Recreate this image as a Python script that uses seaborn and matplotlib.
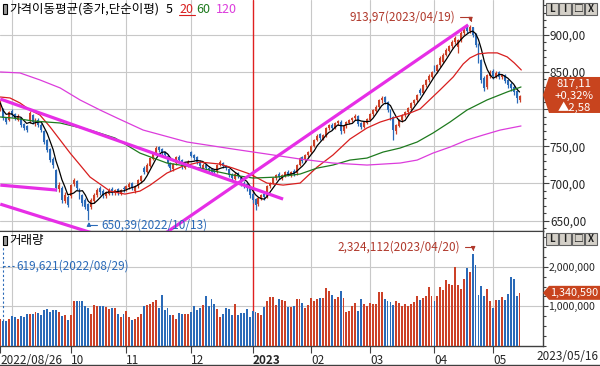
import numpy as np
import pandas as pd
import matplotlib
matplotlib.use('Agg')
import matplotlib.pyplot as plt
import seaborn as sns
from matplotlib.patches import Polygon, Rectangle
from matplotlib.lines import Line2D
from matplotlib.ticker import MultipleLocator

# --- daily candles, 2022/08/26 .. 2023/05/16 (one entry per trading day) ---
opens = [
    800, 800, 788, 786, 798, 793, 786, 788, 780, 778,
    784, 792, 780, 786, 779, 770, 758, 746, 733, 718,
    692, 694, 676, 682, 683, 699, 703, 692, 684, 678,
    672, 668, 676, 684, 694, 690, 683, 686, 693, 687,
    692, 686, 694, 692, 695, 700, 690, 696, 703, 721,
    716, 724, 733, 741, 749, 746, 742, 737, 727, 719,
    727, 736, 731, 721, 725, 742, 738, 735, 729, 721,
    725, 721, 719, 718, 716, 725, 728, 724, 719, 712,
    706, 714, 708, 701, 699, 694, 686, 679, 672, 680,
    686, 683, 696, 701, 707, 713, 708, 711, 716, 711,
    717, 714, 725, 735, 731, 738, 742, 751, 759, 766,
    760, 765, 774, 779, 775, 781, 783, 770, 777, 782,
    785, 788, 791, 781, 776, 782, 786, 793, 798, 803,
    812, 817, 810, 798, 790, 770, 778, 785, 792, 796,
    801, 808, 812, 826, 822, 832, 839, 844, 858, 852,
    860, 864, 873, 879, 885, 890, 884, 893, 902, 910,
    905, 910, 901, 887, 866, 842, 830, 845, 852, 844,
    850, 843, 846, 839, 834, 830, 824, 813,
]
highs = [
    812, 802, 790, 798, 800, 795, 793, 790, 782, 779,
    797, 794, 788, 788, 781, 772, 760, 748, 736, 719,
    702, 697, 688, 684, 699, 708, 705, 694, 686, 680,
    674, 680, 687, 694, 696, 692, 690, 694, 695, 693,
    694, 693, 696, 698, 702, 702, 698, 706, 712, 724,
    727, 736, 743, 750, 751, 748, 744, 739, 729, 728,
    737, 738, 733, 728, 731, 744, 740, 737, 731, 727,
    727, 723, 721, 720, 726, 731, 729, 725, 720, 714,
    715, 716, 709, 703, 700, 696, 688, 681, 682, 686,
    688, 698, 702, 709, 713, 715, 713, 717, 718, 717,
    719, 726, 736, 737, 740, 744, 752, 760, 766, 768,
    767, 776, 780, 781, 783, 786, 785, 779, 784, 787,
    790, 793, 792, 783, 784, 788, 795, 800, 805, 814,
    818, 818, 811, 800, 791, 780, 787, 794, 798, 803,
    810, 814, 821, 828, 834, 841, 847, 852, 859, 861,
    871, 875, 882, 887, 893, 898, 895, 905, 909, 912,
    913.97, 911, 903, 889, 868, 845, 848, 853, 854, 851,
    851, 848, 848, 841, 836, 832, 826, 819,
]
lows = [
    798, 786, 780, 784, 790, 786, 784, 776, 772, 769,
    782, 780, 778, 776, 769, 753, 742, 729, 721, 690,
    688, 674, 674, 668, 681, 697, 691, 679, 670, 665,
    650.39, 665, 674, 682, 685, 681, 680, 684, 685, 685,
    684, 684, 689, 690, 693, 691, 687, 694, 701, 713,
    714, 722, 731, 739, 742, 738, 735, 724, 717, 717,
    725, 729, 720, 719, 722, 735, 731, 726, 720, 719,
    718, 715, 712, 712, 714, 723, 721, 718, 709, 704,
    704, 707, 697, 694, 690, 681, 674, 664, 670, 678,
    678, 681, 694, 699, 705, 706, 705, 709, 710, 709,
    710, 712, 723, 727, 729, 736, 740, 749, 757, 758,
    758, 763, 772, 772, 773, 779, 766, 768, 775, 780,
    783, 786, 778, 773, 774, 780, 784, 791, 796, 801,
    809, 807, 796, 785, 758.5, 766, 776, 783, 790, 794,
    799, 806, 810, 819, 820, 830, 836, 842, 850, 849,
    857, 862, 871, 877, 883, 888, 876, 891, 900, 902,
    903, 897, 884, 862, 835, 824, 827, 842, 841, 842,
    840, 840, 835, 829, 825, 819, 808, 810,
]
closes = [
    808.4, 788.1, 782.7, 796.2, 792.2, 788.1, 790.8, 778.7, 774.6, 771.9,
    794.9, 782.7, 785.4, 778.7, 771.9, 755.8, 745.0, 731.5, 724.8, 693.8,
    697.8, 677.6, 684.3, 670.9, 697.8, 704.6, 693.8, 681.6, 673.6, 668.2,
    662.8, 677.6, 684.3, 691.1, 688.4, 684.3, 688.4, 691.1, 688.4, 691.1,
    687.0, 691.1, 692.4, 696.5, 699.2, 693.8, 696.5, 704.6, 709.9, 715.3,
    724.8, 734.2, 740.9, 747.7, 745.0, 740.9, 738.3, 727.5, 720.7, 726.1,
    735.6, 731.5, 723.4, 726.1, 728.8, 736.9, 734.2, 728.8, 723.4, 724.8,
    720.7, 718.0, 715.3, 715.3, 724.8, 728.8, 723.4, 720.7, 711.3, 707.3,
    712.7, 710.0, 700.5, 697.8, 693.8, 684.3, 677.6, 670.9, 680.3, 684.3,
    681.6, 696.5, 700.5, 707.3, 711.3, 708.6, 711.3, 715.3, 712.7, 715.3,
    712.7, 724.8, 734.2, 730.2, 738.3, 742.3, 750.4, 758.5, 763.9, 761.2,
    765.2, 774.6, 778.7, 774.6, 781.4, 784.1, 770.6, 777.4, 782.7, 785.4,
    788.1, 790.8, 780.0, 776.0, 782.7, 786.8, 793.5, 798.9, 803.0, 812.4,
    815.1, 809.7, 798.9, 788.1, 771.9, 778.7, 785.4, 792.2, 796.2, 801.6,
    808.4, 812.4, 819.1, 821.8, 832.6, 839.4, 844.8, 850.1, 852.8, 859.6,
    869.0, 873.1, 879.8, 885.2, 890.6, 896.0, 893.0, 902.7, 906.8, 905.4,
    910.8, 900.0, 886.5, 866.3, 839.4, 828.6, 846.1, 850.1, 844.8, 848.8,
    843.4, 846.1, 838.0, 832.6, 828.6, 823.2, 814.53, 817.11,
]
# volume in thousands of shares
volumes_k = [
    692, 619.621, 640, 692, 754, 737, 692, 754, 737, 807,
    807, 807, 851, 825, 781, 912, 930, 868, 912, 912,
    868, 754, 772, 650, 781, 1132, 1132, 1132, 1132, 1018,
    956, 807, 1044, 1018, 1018, 1018, 982, 930, 956, 956,
    807, 719, 807, 895, 719, 667, 692, 719, 807, 1018,
    1044, 1070, 1105, 1158, 956, 1281, 912, 956, 781, 781,
    692, 842, 807, 807, 807, 868, 1018, 912, 956, 1044,
    1263, 1000, 1193, 1070, 930, 737, 807, 956, 930, 781,
    1070, 781, 842, 825, 930, 719, 895, 868, 825, 781,
    982, 1132, 1237, 1237, 1044, 1193, 1158, 1132, 982, 982,
    1000, 1193,
    1175, 1088, 956, 1044, 1219, 1132, 1193, 1219, 1219, 1456,
    1395, 1281, 1175, 1246, 1395, 1219, 851, 895, 1000, 1088,
    895, 1175, 1070, 1000, 1088, 1070, 1070, 1351, 1351, 1175,
    1132, 1105, 1044, 1132, 1088, 1018, 1070, 1000, 1070, 1105,
    1263, 1158, 1219, 1263, 1482, 1263, 1132, 1263, 1482, 1421,
    1658, 1570, 1544, 1982, 1526, 1439, 1702, 1965, 1877, 2324.112,
    2035, 1289, 1509, 1263, 1439, 1132, 956, 1158, 1158, 1246,
    1158, 1307, 1746, 1684, 1263, 1340.59,
]

# longer moving averages, sampled off the chart (bar index, value)
ma20_x = [0, 3.3, 6.7, 10.1, 13.5, 17, 20.4, 23.8, 27.2, 30.6, 34, 37.4, 42.5, 47.6, 51.1,
          56.8, 62.3, 68.1, 74.9, 79.3, 85.1, 90.9, 96.4, 102.2, 108, 113.4, 119.2, 125,
          129.5, 133.9, 139.7, 143.1, 149.9, 154.4, 157.8, 160.1, 162.9, 166.3, 169.4,
          172.8, 175.2, 177.6]
ma20_y = [816.4, 815.1, 808.4, 798.9, 792.2, 776.0, 758.5, 740.9, 724.8, 708.6, 699.2, 689.7,
          685.7, 689.7, 697.8, 714.0, 723.4, 728.8, 726.1, 720.7, 712.7, 700.5, 697.8, 700.5,
          722.1, 738.3, 759.8, 774.7, 782.7, 788.1, 794.9, 800.3, 825.9, 843.4, 860.9, 869.0,
          874.4, 875.8, 875.8, 870.4, 862.3, 852.8]
ma60_x = [0, 4.3, 11.2, 20.4, 30.6, 39.1, 47.6, 56.8, 68.1, 79.4, 86.2, 94.3, 102.2, 108,
          113.4, 119.2, 125, 130.5, 136.3, 142.1, 147.5, 153.3, 159.1, 165.9, 172.8, 177.5]
ma60_y = [789.5, 788.1, 784.1, 781.4, 771.9, 761.2, 740.9, 727.5, 720.7, 711.3, 707.3, 708.6,
          712.7, 720.7, 724.8, 731.5, 734.2, 742.3, 747.7, 755.8, 767.9, 782.7, 798.9, 812.4,
          823.2, 829.9]
ma120_x = [0, 6.7, 13.5, 20.4, 27.2, 34, 39.8, 48.7, 63.7, 79.4, 90.9, 102.2, 113.4, 125,
           136.3, 142.1, 147.5, 153.3, 159.1, 164.6, 170.4, 177.5]
ma120_y = [850.1, 848.8, 839.4, 828.6, 812.4, 798.9, 788.1, 771.9, 755.8, 746.3, 739.6, 732.9,
           727.5, 724.8, 727.5, 731.5, 740.9, 749.0, 758.5, 765.2, 771.9, 777.4]

# hand-drawn trend lines (bar index, price)
trend_lines = {
    'up': ([55.0, 159.5], [629.6, 913.5]),
    'down': ([0, 96.4], [813.7, 679.0]),
    'flat': ([0, 19.3], [697.8, 691.1]),
    'low': ([0, 31], [672.2, 633.7]),
}

month_ticks = [0, 24, 43, 65, 86, 106, 126, 148, 168]
month_labels = ['2022/08/26', '10', '11', '12', '2023', '02', '03', '04', '05']
grid_ticks = [4, 24, 43, 65, 106, 126, 148, 168]
year_start = 86
last_date = '2023/05/16'
high_date = '2023/04/19'
low_date = '2022/10/13'
vmax_date = '2023/04/20'
vmin_date = '2022/08/29'
change_pct = '+0,32%'
change_abs = '▲2,58'

price_ticks = [650, 700, 750, 800, 850, 900]
vol_ticks = [1000000, 2000000]

RED = '#cc4128'
BLUE = '#2a6ab8'
DRED = '#b0392c'
MA20_C = '#d81e1e'
MA60_C = '#1e7a1e'
MA120_C = '#dc3cdc'
TREND_C = '#e62ee6'
GRID_C = '#c8c8c8'
AXIS_C = '#404040'
YEAR_C = '#e02020'
BOX_C = '#c8441e'

sns.set_style('white')
plt.rcParams['font.family'] = ['Noto Sans CJK KR', 'DejaVu Sans']

df = pd.DataFrame({'open': opens, 'high': highs, 'low': lows, 'close': closes,
                   'volume': np.array(volumes_k) * 1000})
df['idx'] = np.arange(len(df))
df['up'] = df['close'] >= df['open']
df['ma5'] = df['close'].rolling(5, min_periods=1).mean()

W, H = 600, 366
fig = plt.figure(figsize=(W / 100, H / 100), dpi=100)


def fx(px):
    return px / W


def fy(py):
    return 1 - py / H


ax = fig.add_axes([0, fy(231), fx(543), 231 / H])
axv = fig.add_axes([0, fy(346), fx(543), 115 / H])

# --- candles ---
colors = np.where(df['up'], RED, BLUE)
ax.vlines(df['idx'], df['low'], df['high'], colors=colors, lw=0.9, zorder=3)
body_lo = df[['open', 'close']].min(axis=1)
body_h = (df['close'] - df['open']).abs().clip(lower=0.9)
ax.bar(df['idx'], body_h, bottom=body_lo, width=0.65, color=colors, lw=0, zorder=3)

# --- moving averages ---
sns.lineplot(x=df['idx'], y=df['ma5'], ax=ax, color='black', lw=0.9, zorder=4)
sns.lineplot(x=ma20_x, y=ma20_y, ax=ax, color=MA20_C, lw=0.9, zorder=4)
sns.lineplot(x=ma60_x, y=ma60_y, ax=ax, color=MA60_C, lw=0.9, zorder=4)
sns.lineplot(x=ma120_x, y=ma120_y, ax=ax, color=MA120_C, lw=0.9, zorder=4)

for xs, ys in trend_lines.values():
    ax.plot(xs, ys, color=TREND_C, lw=2.3, solid_capstyle='butt', zorder=5)

# --- volume ---
sns.barplot(data=df, x='idx', y='volume', hue='up', palette={True: RED, False: BLUE},
            native_scale=True, width=0.65, dodge=False, saturation=1, errorbar=None,
            legend=False, linewidth=0, ax=axv, zorder=3)

# --- axes styling ---
for a in (ax, axv):
    a.set_xlim(-0.1, 185)
    a.set_xlabel('')
    a.set_ylabel('')
    a.set_axisbelow(True)
    for x in grid_ticks:
        a.axvline(x, color=GRID_C, lw=0.8, zorder=0)
    a.axvline(year_start, color=YEAR_C, lw=1.0, zorder=1)
    a.yaxis.tick_right()
    a.grid(axis='y', color=GRID_C, lw=0.8)
    a.grid(axis='x', visible=False)
    a.spines['left'].set_visible(False)
    a.spines['right'].set_color(AXIS_C)
    a.spines['bottom'].set_color(AXIS_C)
    a.spines['right'].set_linewidth(1)
    a.spines['bottom'].set_linewidth(1)
ax.spines['top'].set_visible(False)
axv.spines['top'].set_color(AXIS_C)

ax.set_ylim(636, 947)
ax.set_yticks(price_ticks)
# the 800 label sits under the last-price box in the reference
ax.set_yticklabels(['' if v == 800 else f'{v:.2f}'.replace('.', ',') for v in price_ticks])
ax.yaxis.set_minor_locator(MultipleLocator(10))
ax.tick_params(axis='y', which='major', length=4, width=0.8, color=AXIS_C, labelsize=8.5,
               pad=1, right=True, left=False)
ax.tick_params(axis='y', which='minor', length=2.5, width=0.8, color=AXIS_C, right=True, left=False)
ax.tick_params(axis='x', bottom=False, labelbottom=False)

axv.set_ylim(0, 2.9e6)
axv.set_yticks(vol_ticks)
axv.set_yticklabels([f'{v:,}' for v in vol_ticks])
axv.yaxis.set_minor_locator(MultipleLocator(250000))
axv.tick_params(axis='y', which='major', length=3.5, width=0.8, color=AXIS_C, labelsize=7.6,
                pad=0.5, right=True, left=False)
axv.tick_params(axis='y', which='minor', length=2.5, width=0.8, color=AXIS_C, right=True, left=False)
axv.set_xticks(month_ticks)
axv.set_xticklabels(month_labels)
axv.tick_params(axis='x', length=5, width=0.8, color=AXIS_C, labelsize=8.5, pad=0.5, bottom=True)
for lbl in axv.get_xticklabels():
    lbl.set_ha('left')
    if lbl.get_text() == '2023':
        lbl.set_fontweight('bold')

fig.text(fx(598), fy(356), last_date, ha='right', va='center', fontsize=8.5)
fig.add_artist(Line2D([0, 1], [fy(364.5)] * 2, color=AXIS_C, lw=1))

# --- high / low annotations ---
hi_i = int(np.argmax(highs))
lo_i = int(np.argmin(lows))
ax.annotate(f'{highs[hi_i]:.2f}'.replace('.', ',') + f'({high_date})',
            xy=(hi_i + 0.3, highs[hi_i] + 3.5), xytext=(155.0, 924.3),
            ha='right', va='center', fontsize=8.5, color=DRED, zorder=6,
            arrowprops=dict(arrowstyle='-|>', color=DRED, lw=0.8, mutation_scale=6,
                            connectionstyle='angle,angleA=0,angleB=90,rad=0',
                            relpos=(1, 0.5), shrinkA=1, shrinkB=0))
ax.annotate(f'{lows[lo_i]:.2f}'.replace('.', ',') + f'({low_date})',
            xy=(lo_i + 0.2, lows[lo_i] - 2), xytext=(34.6, 643.9),
            ha='left', va='center', fontsize=8.5, color=BLUE, zorder=6,
            annotation_clip=False,
            arrowprops=dict(arrowstyle='-|>', color=BLUE, lw=0.8, mutation_scale=6,
                            connectionstyle='angle,angleA=180,angleB=90,rad=0',
                            relpos=(0, 0.5), shrinkA=1, shrinkB=0))

vmax_i = int(df['volume'].idxmax())
vmin_i = int(df['volume'].idxmin())
axv.annotate(f"{int(round(df['volume'][vmax_i])):,}({vmax_date})",
             xy=(vmax_i + 0.2, df['volume'][vmax_i] + 70000), xytext=(156.7, 2.497e6),
             ha='right', va='center', fontsize=8.5, color=DRED, zorder=6,
             arrowprops=dict(arrowstyle='-|>', color=DRED, lw=0.8, mutation_scale=6,
                             connectionstyle='angle,angleA=0,angleB=90,rad=0',
                             relpos=(1, 0.5), shrinkA=1, shrinkB=0))
vmin_val = df['volume'][vmin_i]
axv.text(5.6, 2.017e6, f'{int(round(vmin_val)):,}({vmin_date})', ha='left', va='center',
         fontsize=8.5, color=BLUE, zorder=6)
axv.plot([vmin_i, vmin_i], [vmin_val, 2.55e6], color=BLUE, lw=0.8, ls=(0, (2, 2)), zorder=6)
axv.plot([vmin_i, 5.2], [2.017e6, 2.017e6], color=BLUE, lw=0.8, ls=(0, (2, 2)), zorder=6)

# --- headers ---
renderer = fig.canvas.get_renderer()


def text_run(x_px, y_px, parts, size):
    x = x_px
    spans = []
    for s, c, gap in parts:
        t = fig.text(fx(x), fy(y_px), s, color=c, fontsize=size, ha='left', va='center')
        w = t.get_window_extent(renderer=renderer).width
        spans.append((x, x + w))
        x += w + gap
    return spans


def icon(y_px):
    fig.add_artist(Rectangle((fx(3), fy(y_px + 4.5)), 4 / W, 9 / H, transform=fig.transFigure,
                             fc='#9a9a9a', ec='black', lw=0.8))


icon(9)
spans = text_run(9, 9.5, [('가격이동평균(종가,단순이평)', 'black', 7), ('5', 'black', 6),
                          ('20', MA20_C, 3), ('60', MA60_C, 6), ('120', MA120_C, 0)], 9)
x0, x1 = spans[2]
fig.add_artist(Line2D([fx(x0), fx(x1 + 2)], [fy(15)] * 2, color=MA20_C, lw=0.8))
icon(240)
text_run(9, 240.5, [('거래량', 'black', 0)], 9)


def buttons(y_px):
    for k, s in enumerate(['L', 'I', '□', 'X']):
        x = 546 + k * 13
        fig.add_artist(Rectangle((fx(x), fy(y_px + 12)), 12 / W, 12 / H, transform=fig.transFigure,
                                 fc='#d4d0c8', ec='#606060', lw=0.8))
        fig.text(fx(x + 6), fy(y_px + 6), s, ha='center', va='center', fontsize=7,
                 fontweight='bold', color='#202020')


buttons(3)
buttons(233)

# --- last value boxes on the right axis ---
last_py = H - ax.transData.transform((0, closes[-1]))[1] - 1.5
pts = [(543, last_py), (549, last_py - 18), (600, last_py - 18),
       (600, last_py + 18), (549, last_py + 18)]
fig.add_artist(Polygon([(fx(a), fy(b)) for a, b in pts], closed=True,
                       transform=fig.transFigure, fc=BOX_C, ec='none', zorder=5))
for dy, s in [(-11, f'{closes[-1]:.2f}'.replace('.', ',')), (1, change_pct), (12, change_abs)]:
    fig.text(fx(574), fy(last_py + dy), s, ha='center', va='center', fontsize=8.2,
             color='white', zorder=6)

vol_py = H - axv.transData.transform((0, df['volume'].iloc[-1]))[1]
pts = [(543, vol_py), (549, vol_py - 7), (600, vol_py - 7), (600, vol_py + 7), (549, vol_py + 7)]
fig.add_artist(Polygon([(fx(a), fy(b)) for a, b in pts], closed=True,
                       transform=fig.transFigure, fc=BOX_C, ec='none', zorder=5))
fig.text(fx(574.5), fy(vol_py), f"{int(round(df['volume'].iloc[-1])):,}", ha='center',
         va='center', fontsize=7.8, color='white', zorder=6)

fig.savefig('out.png', dpi=100)
